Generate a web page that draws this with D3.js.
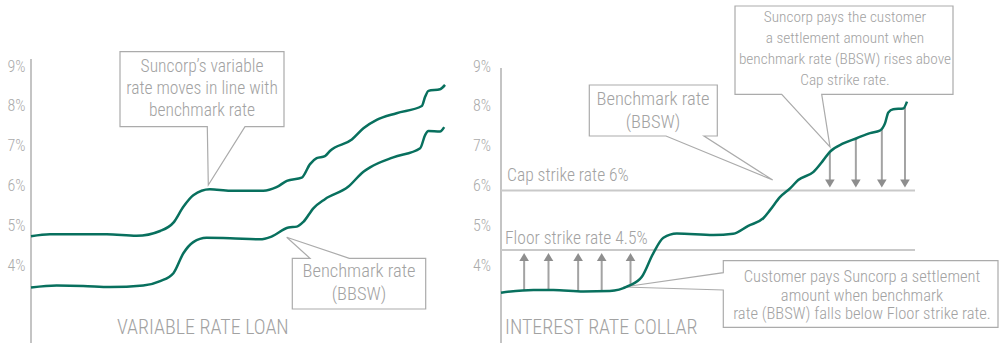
<!DOCTYPE html>
<html>
<head>
<meta charset="utf-8">
<script src="https://cdn.jsdelivr.net/npm/d3@7"></script>
<style>
  html, body { margin: 0; padding: 0; background: #fff; }
  svg { display: block; }
  text { font-family: "Liberation Sans Narrow", "Arial Narrow", "Roboto Condensed", "DejaVu Sans Condensed", sans-serif; font-weight: 300; }
</style>
</head>
<body>
<svg id="chart" width="1001" height="343"></svg>
<script>
// ---- data ---------------------------------------------------------------
// Rates in % against an index of the period (0 = start, 100 = end).
const tickValues = [9, 8, 7, 6, 5, 4];
const tickLabels = ["9%", "8%", "7%", "6%", "5%", "4%"];

// Variable rate loan panel
const variablePeriod = [0, 4.6, 18.3, 25.5, 31.2, 34.4, 36.8, 39.2, 43.2, 48.1, 56.1, 59.3, 61.8, 65.4, 67.4, 69.0, 71.0, 72.2, 77.5, 80.3, 83.5, 88.3, 94.4, 95.2, 96.0, 98.8, 100];
const variableRate   = [4.85, 4.90, 4.90, 4.86, 4.98, 5.19, 5.59, 5.88, 6.03, 5.99, 5.99, 6.08, 6.24, 6.32, 6.66, 6.81, 6.86, 6.99, 7.28, 7.56, 7.77, 7.94, 8.12, 8.35, 8.50, 8.54, 8.65];

const benchPeriod = [0, 6.2, 12.6, 19.1, 27.1, 31.2, 34.4, 36.8, 39.2, 42.4, 48.1, 55.3, 58.1, 62.2, 64.2, 65.8, 68.2, 71.0, 76.6, 80.3, 81.9, 87.5, 94.0, 95.2, 96.0, 98.8, 99.8];
const benchRate   = [3.56, 3.61, 3.60, 3.57, 3.61, 3.72, 3.92, 4.42, 4.70, 4.81, 4.80, 4.77, 4.84, 5.07, 5.09, 5.21, 5.55, 5.78, 6.09, 6.47, 6.58, 6.83, 7.06, 7.39, 7.49, 7.48, 7.59];

// Interest rate collar panel
const collarPeriod = [0, 8.0, 12.9, 20.3, 26.8, 31.4, 34.7, 37.5, 40.0, 43.3, 52.3, 57.2, 60.9, 64.6, 66.3, 68.7, 71.2, 73.2, 76.9, 79.4, 81.0, 84.3, 87.6, 90.9, 93.3, 94.6, 95.4, 96.6, 99.1, 100];
const collarRate   = [3.43, 3.50, 3.50, 3.46, 3.47, 3.60, 3.83, 4.42, 4.81, 4.92, 4.88, 4.91, 5.11, 5.30, 5.51, 5.83, 6.05, 6.26, 6.46, 6.76, 6.97, 7.18, 7.31, 7.44, 7.50, 7.69, 7.96, 8.04, 8.06, 8.23];

const capStrike = 6;
const floorStrike = 4.5;
const capArrowPeriods = [81.0, 87.4, 93.8, 99.5];
const floorArrowPeriods = [5.7, 11.7, 19.0, 24.8, 31.9];

// ---- styles -------------------------------------------------------------
const GREEN = "#08705e";
const AXIS = "#c4c4c4";
const TEXT = "#a2a2a2";
const BOX = "#ababab";
const ARROW = "#a3a3a3";
const HEAD = "#8e8e8e";

const svg = d3.select("#chart");

// shared value scale
const y = d3.scaleLinear().domain([4, 9]).range([270, 71]);

const xLoan = d3.scaleLinear().domain([0, 100]).range([31, 445]);
const xCollar = d3.scaleLinear().domain([0, 100]).range([501, 907]);

function rateLine(x) {
  return d3.line().x(d => x(d[0])).y(d => y(d[1])).curve(d3.curveMonotoneX);
}

function drawAxis(x0, top, padding) {
  const g = svg.append("g").attr("transform", `translate(${x0},0)`);
  g.call(d3.axisLeft(y).tickValues(tickValues)
      .tickFormat((d, i) => tickLabels[i]).tickSize(0).tickPadding(padding));
  g.select(".domain").remove();
  g.selectAll("text")
    .attr("dy", 0)
    .attr("fill", "#ababab")
    .style("font-size", "16px")
    .style("font-family", null);
  svg.append("line")
    .attr("x1", x0).attr("x2", x0)
    .attr("y1", top).attr("y2", 343)
    .attr("stroke", AXIS).attr("stroke-width", 2);
}

// callout box with a pointed tail on one side
function callout(box, side, a, b, tip) {
  const [x0, y0, x1, y1] = box;
  const p = d3.path();
  p.moveTo(x0, y0);
  if (side === "top") { p.lineTo(a, y0); p.lineTo(tip[0], tip[1]); p.lineTo(b, y0); }
  p.lineTo(x1, y0);
  p.lineTo(x1, y1);
  if (side === "bottom") { p.lineTo(b, y1); p.lineTo(tip[0], tip[1]); p.lineTo(a, y1); }
  p.lineTo(x0, y1);
  if (side === "left") { p.lineTo(x0, b); p.lineTo(tip[0], tip[1]); p.lineTo(x0, a); }
  p.closePath();
  svg.append("path").attr("d", p.toString())
    .attr("fill", "#fff").attr("stroke", BOX).attr("stroke-width", 1.2);
}

function textLines(lines, cx, baseline, step, size) {
  const t = svg.append("text")
    .attr("text-anchor", "middle")
    .attr("fill", TEXT)
    .style("font-size", size + "px");
  lines.forEach((s, i) => {
    t.append("tspan").attr("x", cx).attr("y", baseline + i * step).text(s);
  });
}

function arrow(x, yFrom, yTip, dir) {
  // dir: -1 points up, +1 points down
  const h = 8, w = 4.8;
  svg.append("line")
    .attr("x1", x).attr("x2", x)
    .attr("y1", yFrom).attr("y2", yTip - dir * h + dir * 1)
    .attr("stroke", ARROW).attr("stroke-width", 2);
  svg.append("path")
    .attr("d", `M${x},${yTip} L${x - w},${yTip - dir * h} L${x + w},${yTip - dir * h} Z`)
    .attr("fill", HEAD);
}

function valueAt(periods, rates, p) {
  const i = d3.bisectLeft(periods, p);
  if (i <= 0) return rates[0];
  if (i >= periods.length) return rates[rates.length - 1];
  const t = (p - periods[i - 1]) / (periods[i] - periods[i - 1]);
  return rates[i - 1] + t * (rates[i] - rates[i - 1]);
}

// ---- left panel: variable rate loan --------------------------------------
drawAxis(31, 59, 5.5);

callout([120, 51.7, 284, 126.7], "bottom", 207.3, 245, [208.3, 185]);
textLines(["Suncorp\u2019s variable", "rate moves in line with", "benchmark rate"], 202, 72, 22, 17.5);

svg.append("path")
  .datum(d3.zip(variablePeriod, variableRate))
  .attr("d", rateLine(xLoan))
  .attr("fill", "none").attr("stroke", GREEN).attr("stroke-width", 2.5);

svg.append("path")
  .datum(d3.zip(benchPeriod, benchRate))
  .attr("d", rateLine(xLoan))
  .attr("fill", "none").attr("stroke", GREEN).attr("stroke-width", 2.5);

callout([292.3, 258.3, 425.7, 309], "top", 310, 349.3, [286.7, 237.3]);
textLines(["Benchmark rate", "(BBSW)"], 359, 277, 23, 18.5);

svg.append("text")
  .attr("x", 117).attr("y", 334)
  .attr("fill", TEXT).style("font-size", "20px")
  .text("VARIABLE RATE LOAN");

// ---- right panel: interest rate collar -----------------------------------
drawAxis(501, 68, 10);

const strikeEnd = 915;
[capStrike, floorStrike].forEach(v => {
  svg.append("line")
    .attr("x1", 501).attr("x2", strikeEnd)
    .attr("y1", y(v)).attr("y2", y(v))
    .attr("stroke", "#c9c9c9").attr("stroke-width", 2);
});
svg.append("text").attr("x", 507).attr("y", y(capStrike) - 9)
  .attr("fill", TEXT).style("font-size", "17.5px").text("Cap strike rate 6%");
svg.append("text").attr("x", 505).attr("y", y(floorStrike) - 6)
  .attr("fill", TEXT).style("font-size", "17.5px").text("Floor strike rate 4.5%");

callout([589.3, 85, 717.3, 136], "bottom", 666, 704, [772.7, 180]);
textLines(["Benchmark rate", "(BBSW)"], 653, 105, 23, 18.5);

callout([735, 6, 953, 94.3], "bottom", 781.7, 821.7, [830, 147]);
textLines(["Suncorp pays the customer", "a settlement amount when",
           "benchmark rate (BBSW) rises above", "Cap strike rate."], 845, 22, 21, 15.3);

// arrows from the benchmark line to the strike rates
capArrowPeriods.forEach(p => {
  arrow(xCollar(p), y(valueAt(collarPeriod, collarRate, p)), y(capStrike) - 3, 1);
});
floorArrowPeriods.forEach(p => {
  arrow(xCollar(p), y(valueAt(collarPeriod, collarRate, p)), y(floorStrike) + 3, -1);
});

callout([723.3, 260.7, 998, 327.3], "left", 272.7, 290, [623.3, 287]);
textLines(["Customer pays Suncorp a settlement", "amount when benchmark",
           "rate (BBSW) falls below Floor strike rate."], 862, 282, 18.5, 16.5);

svg.append("path")
  .datum(d3.zip(collarPeriod, collarRate))
  .attr("d", rateLine(xCollar))
  .attr("fill", "none").attr("stroke", GREEN).attr("stroke-width", 2.5);

svg.append("text")
  .attr("x", 505).attr("y", 334)
  .attr("fill", TEXT).style("font-size", "20px")
  .text("INTEREST RATE COLLAR");
</script>
</body>
</html>
